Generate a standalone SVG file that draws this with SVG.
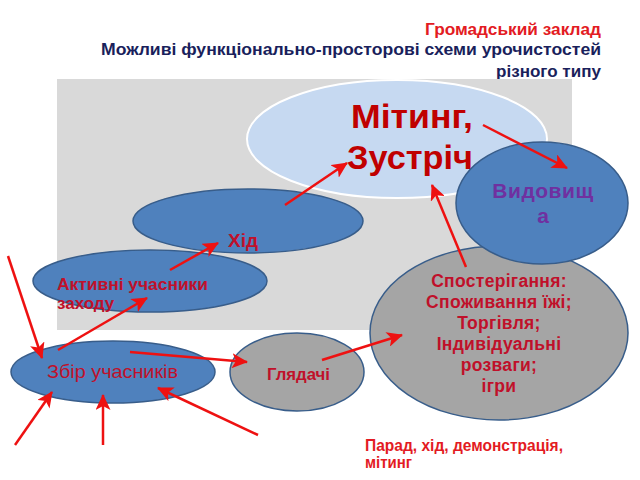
<svg xmlns="http://www.w3.org/2000/svg" width="640" height="480" viewBox="0 0 640 480">
<defs>
<style>
.t{font-family:"Liberation Sans",Arial,sans-serif}
.title{font-size:17px;font-weight:bold}
.blue{fill:#4f81bd;stroke:#385d8a;stroke-width:1.5}
.gray{fill:#a5a5a5;stroke:#385d8a;stroke-width:1.5}
.lbl{fill:#c0102a;font-weight:bold}
.arr{stroke:#ee1111;stroke-width:2.5;fill:none;marker-end:url(#ah)}
</style>
<marker id="ah" markerUnits="userSpaceOnUse" markerWidth="17" markerHeight="15" refX="15" refY="7.5" orient="auto">
<path d="M0,0 L16,7.5 L0,15 L4,7.5 Z" fill="#ee1111"/>
</marker>
</defs>
<rect width="640" height="480" fill="#ffffff"/>
<g id="titles">
<text class="t title" x="425" y="35" fill="#e31b23" textLength="176" lengthAdjust="spacingAndGlyphs">Громадський заклад</text>
<text class="t title" x="101" y="55" fill="#1a1f5c" textLength="500" lengthAdjust="spacingAndGlyphs">Можливі функціонально-просторові схеми урочистостей</text>
<text class="t title" x="496" y="77" fill="#1a1f5c" textLength="105" lengthAdjust="spacingAndGlyphs">різного типу</text>
</g>
<rect id="area" x="57" y="79" width="515" height="251" fill="#d9d9d9"/>
<g id="miting">
<ellipse cx="397" cy="139" rx="150" ry="59" fill="#c6d9f1" stroke="#ffffff" stroke-width="2"/>
<text class="t" x="351" y="128" font-size="33" font-weight="bold" fill="#c00000" textLength="122" lengthAdjust="spacingAndGlyphs">Мітинг,</text>
<text class="t" x="347" y="169" font-size="33" font-weight="bold" fill="#c00000" textLength="126" lengthAdjust="spacingAndGlyphs">Зустріч</text>
</g>
<g id="hid">
<ellipse class="blue" cx="248" cy="221" rx="115" ry="32"/>
<text class="t lbl" x="243" y="247" font-size="19" text-anchor="middle">Хід</text>
</g>
<g id="aktyvni">
<ellipse class="blue" cx="150" cy="281" rx="117" ry="31"/>
<text class="t lbl" x="57" y="290" font-size="17" textLength="151" lengthAdjust="spacingAndGlyphs">Активні учасники</text>
<text class="t lbl" x="57" y="309" font-size="17">заходу</text>
</g>
<g id="zbir">
<ellipse class="blue" cx="113" cy="372" rx="102" ry="31"/>
<text class="t" x="47" y="378" font-size="19" fill="#c0102a" textLength="131" lengthAdjust="spacingAndGlyphs">Збір учасників</text>
</g>
<g id="hliadachi">
<ellipse class="gray" cx="297" cy="372" rx="67" ry="39"/>
<text class="t lbl" x="267" y="380" font-size="17" textLength="63" lengthAdjust="spacingAndGlyphs">Глядачі</text>
</g>
<g id="sposter">
<ellipse class="gray" cx="499" cy="333" rx="129" ry="87"/>
<g class="t lbl" font-size="17.5" text-anchor="middle" letter-spacing="0.3">
<text x="499" y="287">Спостерігання:</text>
<text x="499" y="308">Споживання їжі;</text>
<text x="499" y="329">Торгівля;</text>
<text x="499" y="350">Індивідуальні</text>
<text x="499" y="371">розваги;</text>
<text x="499" y="392">ігри</text>
</g>
</g>
<g id="vydovyshcha">
<ellipse class="blue" cx="542" cy="203" rx="86" ry="61"/>
<text class="t" x="543" y="198" font-size="21" font-weight="bold" fill="#7030a0" text-anchor="middle" letter-spacing="0.5">Видовищ</text>
<text class="t" x="543" y="223" font-size="21" font-weight="bold" fill="#7030a0" text-anchor="middle">а</text>
</g>
<g id="note" class="t" font-size="16" font-weight="bold" fill="#e31b23">
<text x="365" y="451" textLength="198" lengthAdjust="spacingAndGlyphs">Парад, хід, демонстрація,</text>
<text x="365" y="468" textLength="47" lengthAdjust="spacingAndGlyphs">мітинг</text>
</g>
<g id="connectors">
<line class="arr" x1="285" y1="205" x2="347" y2="163"/>
<line class="arr" x1="483" y1="125" x2="567" y2="168"/>
<line class="arr" x1="466" y1="267" x2="432" y2="185"/>
<line class="arr" x1="170" y1="270" x2="218" y2="243"/>
<line class="arr" x1="58" y1="350" x2="147" y2="298"/>
<line class="arr" x1="8" y1="256" x2="42" y2="358"/>
<line class="arr" x1="130" y1="352" x2="247" y2="362"/>
<line class="arr" x1="322" y1="360" x2="402" y2="335"/>
<line class="arr" x1="15" y1="445" x2="52" y2="392"/>
<line class="arr" x1="103" y1="445" x2="103" y2="395"/>
<line class="arr" x1="258" y1="435" x2="158" y2="388"/>
</g>
</svg>
